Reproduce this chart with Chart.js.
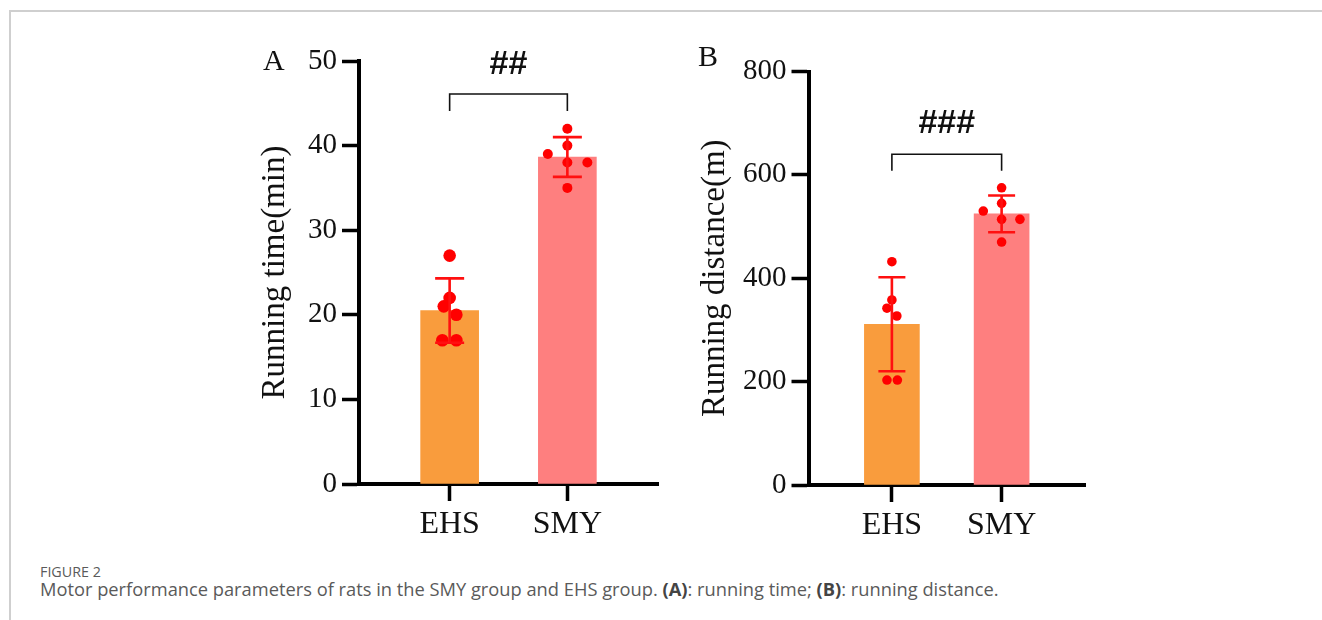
<!DOCTYPE html>
<html>
<head>
<meta charset="utf-8">
<script src="https://cdn.jsdelivr.net/npm/chart.js@4/dist/chart.umd.min.js"></script>
<style>
  html, body { margin: 0; padding: 0; background: #fff; }
  body { width: 1322px; height: 620px; position: relative; overflow: hidden; font-family: "Liberation Serif", serif; }
  .frame-top { position: absolute; left: 9px; top: 10px; width: 1313px; height: 2px; background: #cfcfcf; }
  .frame-left { position: absolute; left: 9px; top: 10px; width: 2px; height: 610px; background: #cfcfcf; }
  canvas { position: absolute; top: 0; }
  #cA { left: 0; }
  #cB { left: 680px; }
  .panel { position: absolute; font-family: "Liberation Serif", serif; font-size: 30px; color: #111; line-height: 1; }
  .cap1 { position: absolute; left: 40px; top: 562px; font-family: "Open Sans", sans-serif; font-size: 14.3px; color: #5a5a5a; }
  .cap2 { position: absolute; left: 40px; top: 576px; font-family: "Open Sans", sans-serif; font-size: 18.3px; color: #5a5a5a; white-space: nowrap; }
  .cap2 b { font-weight: 700; color: #444; }
</style>
</head>
<body>
<div class="frame-top"></div>
<div class="frame-left"></div>
<canvas id="cA" width="680" height="560"></canvas>
<canvas id="cB" width="642" height="560"></canvas>
<div class="panel" style="left:263px; top:45px;">A</div>
<div class="panel" style="left:698px; top:41px;">B</div>
<div class="cap1">FIGURE 2</div>
<div class="cap2">Motor performance parameters of rats in the SMY group and EHS group. <b>(A)</b>: running time; <b>(B)</b>: running distance.</div>
<script>
// ---- data ----
const categories = ["EHS", "SMY"];

// Panel A: running time (min)
const timeMeans = [20.5, 38.65];
const timeSD = [3.8, 2.35];
const timeEHS = [27, 22, 21, 20, 17, 17];
const timeEHSJitter = [0, 0, -0.05, 0.057, -0.062, 0.057];
const timeSMY = [42, 40, 39, 38, 38, 35];
const timeSMYJitter = [0, 0, -0.166, 0, 0.17, 0];
const timeTicks = [0, 10, 20, 30, 40, 50];

// Panel B: running distance (m)
const distMeans = [311, 524.5];
const distSD = [91, 35.5];
const distEHS = [432, 358, 342, 327, 203, 203];
const distEHSJitter = [0, 0, -0.045, 0.045, -0.045, 0.05];
const distSMY = [575, 545, 530, 514, 514, 470];
const distSMYJitter = [0, 0, -0.167, 0, 0.167, 0];
const distTicks = [0, 200, 400, 600, 800];

// significance brackets (data units)
const timeBracket = { from: 0, to: 1, top: 46.1, bottom: 44.1, labelY: 49.6, label: "##" };
const distBracket = { from: 0, to: 1, top: 640, bottom: 608, labelY: 700, label: "###" };

const barColors = ["#F99C3D", "#FE7F7F"];
const dotColor = "#FF0000";
const errColor = "#FF1010";

const serif = "'Liberation Serif', 'Times New Roman', serif";

const errorBarPlugin = {
  id: 'errbars',
  afterDatasetsDraw(chart) {
    const o = chart.options.plugins.errbars;
    const xs = chart.scales.x, ys = chart.scales.y, ctx = chart.ctx;
    ctx.save();
    ctx.strokeStyle = errColor;
    ctx.lineWidth = 2.6;
    o.means.forEach((m, i) => {
      const x = xs.getPixelForValue(i);
      const yt = ys.getPixelForValue(m + o.sd[i]);
      const yb = ys.getPixelForValue(m - o.sd[i]);
      ctx.beginPath();
      ctx.moveTo(x, yt); ctx.lineTo(x, yb);
      ctx.moveTo(x - o.cap, yt); ctx.lineTo(x + o.cap, yt);
      ctx.moveTo(x - o.cap, yb); ctx.lineTo(x + o.cap, yb);
      ctx.stroke();
    });
    ctx.restore();
  },
  afterDraw(chart) {
    const b = chart.options.plugins.errbars.bracket;
    const xs = chart.scales.x, ys = chart.scales.y, ctx = chart.ctx;
    const x1 = xs.getPixelForValue(b.from), x2 = xs.getPixelForValue(b.to);
    const yT = ys.getPixelForValue(b.top), yB = ys.getPixelForValue(b.bottom);
    ctx.save();
    ctx.strokeStyle = "#111";
    ctx.lineWidth = 1.6;
    ctx.beginPath();
    ctx.moveTo(x1, yB); ctx.lineTo(x1, yT); ctx.lineTo(x2, yT); ctx.lineTo(x2, yB);
    ctx.stroke();
    ctx.fillStyle = "#111";
    ctx.font = "bold 34px 'Liberation Sans', Arial, sans-serif";
    ctx.textAlign = "center";
    ctx.textBaseline = "middle";
    ctx.fillText(b.label, (x1 + x2) / 2, ys.getPixelForValue(b.labelY));
    ctx.restore();
  }
};

function makeChart(id, cfg) {
  const dots = (vals, jit, idx) => vals.map((v, k) => ({ x: idx + jit[k], y: v }));
  return new Chart(document.getElementById(id), {
    type: 'bar',
    data: {
      datasets: [
        {
          type: 'bar',
          data: cfg.means.map((m, i) => ({ x: i, y: m })),
          backgroundColor: barColors,
          borderWidth: 0,
          barThickness: cfg.barW,
          order: 3
        },
        {
          type: 'scatter',
          data: dots(cfg.ehs, cfg.ehsJ, 0),
          backgroundColor: dotColor,
          borderWidth: 0,
          pointRadius: cfg.rEHS,
          order: 1
        },
        {
          type: 'scatter',
          data: dots(cfg.smy, cfg.smyJ, 1),
          backgroundColor: dotColor,
          borderWidth: 0,
          pointRadius: cfg.rSMY,
          order: 1
        }
      ]
    },
    options: {
      responsive: false,
      animation: false,
      devicePixelRatio: 1,
      layout: { padding: cfg.pad },
      plugins: {
        legend: { display: false },
        tooltip: { enabled: false },
        errbars: { means: cfg.means, sd: cfg.sd, cap: cfg.cap, bracket: cfg.bracket }
      },
      scales: {
        x: {
          type: 'linear',
          offset: false,
          min: cfg.xMin, max: cfg.xMax,
          afterFit: s => { s.height = cfg.xH; },
          afterBuildTicks: s => { s.ticks = categories.map((c, i) => ({ value: i })); },
          ticks: {
            callback: v => categories[v],
            color: "#111",
            font: { family: serif, size: 32 },
            padding: 4,
            maxRotation: 0,
            autoSkip: false
          },
          grid: { offset: false, drawOnChartArea: false, drawTicks: true, tickLength: 17, tickWidth: 3.5, tickColor: "#000" },
          border: { display: true, color: "#000", width: 4 }
        },
        y: {
          min: 0, max: cfg.yMax,
          afterFit: s => { s.width = cfg.yW; },
          afterBuildTicks: s => { s.ticks = cfg.ticks.map(v => ({ value: v })); },
          ticks: {
            color: "#111",
            font: { family: serif, size: 29 },
            padding: 5
          },
          title: {
            display: true,
            text: cfg.title,
            color: "#111",
            font: { family: serif, size: 33 },
            padding: { top: 4, bottom: 4 }
          },
          grid: { drawOnChartArea: false, drawTicks: true, tickLength: 17, tickWidth: 3.5, tickColor: "#000" },
          border: { display: true, color: "#000", width: 4 }
        }
      }
    },
    plugins: [errorBarPlugin]
  });
}

makeChart('cA', {
  means: timeMeans, sd: timeSD, ehs: timeEHS, ehsJ: timeEHSJitter, smy: timeSMY, smyJ: timeSMYJitter,
  ticks: timeTicks, yMax: 50, title: "Running time(min)", bracket: timeBracket,
  xMin: -0.77, xMax: 1.77, barW: 58, rEHS: 6.3, rSMY: 5, cap: 14.5,
  pad: { left: 252, top: 61, right: 22, bottom: 0 }, yW: 107, xH: 76
});

makeChart('cB', {
  means: distMeans, sd: distSD, ehs: distEHS, ehsJ: distEHSJitter, smy: distSMY, smyJ: distSMYJitter,
  ticks: distTicks, yMax: 800, title: "Running distance(m)", bracket: distBracket,
  xMin: -0.76, xMax: 1.76, barW: 55, rEHS: 4.8, rSMY: 4.8, cap: 13.5,
  pad: { left: 12, top: 71.5, right: 237, bottom: 0 }, yW: 116.5, xH: 75
});
</script>
</body>
</html>
